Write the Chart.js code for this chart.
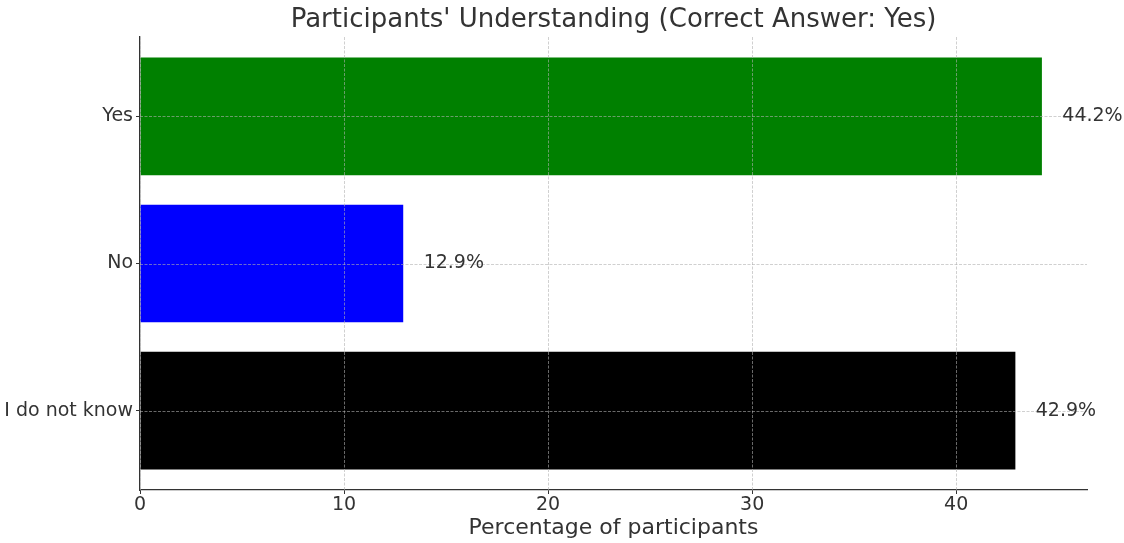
<!DOCTYPE html>
<html>
<head>
<meta charset="utf-8">
<script src="https://cdn.jsdelivr.net/npm/chart.js@4/dist/chart.umd.min.js"></script>
<style>
  body { margin: 0; background: #fff; }
</style>
</head>
<body>
<canvas id="chart" width="1124" height="543"></canvas>
<script>
// data, bottom to top as in the original plot
const categories = ['I do not know', 'No', 'Yes'];
const percentages = [42.9, 12.9, 44.2];
const barColors = ['#000000', '#0000ff', '#008000'];
const xTicks = [0, 10, 20, 30, 40];

const textColor = '#333333';
const fontFamily = "'DejaVu Sans', sans-serif";

// matplotlib-style 5% margins
const xMax = Math.max(...percentages) * 1.05;
const yMin = -0.4 - 0.14;
const yMax = categories.length - 1 + 0.4 + 0.14;

// grid drawn over the bars, plus value labels
const overlayPlugin = {
  id: 'overlay',
  afterDatasetsDraw(chart) {
    const { ctx, chartArea, scales } = chart;
    ctx.save();
    ctx.strokeStyle = 'rgba(176,176,176,0.75)';
    ctx.lineWidth = 0.8;
    ctx.setLineDash([3, 1.5]);
    scales.x.ticks.forEach(t => {
      const px = Math.round(scales.x.getPixelForValue(t.value)) + 0.5;
      ctx.beginPath();
      ctx.moveTo(px, chartArea.top);
      ctx.lineTo(px, chartArea.bottom);
      ctx.stroke();
    });
    scales.y.ticks.forEach(t => {
      const py = Math.round(scales.y.getPixelForValue(t.value)) + 0.5;
      ctx.beginPath();
      ctx.moveTo(chartArea.left, py);
      ctx.lineTo(chartArea.right, py);
      ctx.stroke();
    });
    ctx.setLineDash([]);

    ctx.fillStyle = textColor;
    ctx.font = '19px ' + fontFamily;
    ctx.textAlign = 'left';
    ctx.textBaseline = 'middle';
    percentages.forEach((v, i) => {
      const px = scales.x.getPixelForValue(v + 1);
      const py = scales.y.getPixelForValue(i);
      ctx.fillText(v.toFixed(1) + '%', px, py);
    });
    ctx.restore();
  }
};

new Chart(document.getElementById('chart'), {
  type: 'bar',
  data: {
    datasets: [{
      data: percentages.map((v, i) => ({ x: v, y: i })),
      backgroundColor: barColors,
      borderWidth: 0,
      categoryPercentage: 1.0,
      barPercentage: 0.8
    }]
  },
  options: {
    indexAxis: 'y',
    responsive: false,
    animation: false,
    devicePixelRatio: 1,
    layout: { padding: { left: 0, right: 37, top: 0, bottom: 0 } },
    plugins: {
      legend: { display: false },
      tooltip: { enabled: false },
      title: {
        display: true,
        fullSize: false,
        text: "Participants' Understanding (Correct Answer: Yes)",
        color: textColor,
        font: { family: fontFamily, size: 26, weight: 'normal' },
        padding: { top: 4.4, bottom: 1.4 }
      }
    },
    scales: {
      x: {
        type: 'linear',
        min: 0,
        max: xMax,
        afterBuildTicks: s => { s.ticks = xTicks.map(v => ({ value: v })); },
        afterFit: s => { s.height = 53; },
        ticks: {
          color: textColor,
          font: { family: fontFamily, size: 19 },
          padding: 0,
          maxRotation: 0
        },
        grid: {
          drawOnChartArea: false,
          drawTicks: true,
          tickLength: 4,
          tickColor: '#333',
          color: '#333'
        },
        border: { display: true, color: '#333', width: 1.3 },
        title: {
          display: true,
          text: 'Percentage of participants',
          color: textColor,
          font: { family: fontFamily, size: 22 },
          padding: { top: 0, bottom: 2 }
        }
      },
      y: {
        type: 'linear',
        offset: false,
        min: yMin,
        max: yMax,
        afterBuildTicks: s => { s.ticks = categories.map((c, i) => ({ value: i })); },
        afterFit: s => { s.width = 140; },
        ticks: {
          color: textColor,
          font: { family: fontFamily, size: 19 },
          padding: 3,
          callback: v => categories[v]
        },
        grid: {
          offset: false,
          drawOnChartArea: false,
          drawTicks: true,
          tickLength: 4,
          tickColor: '#333',
          color: '#333'
        },
        border: { display: true, color: '#333', width: 1.3 }
      }
    }
  },
  plugins: [overlayPlugin]
});
</script>
</body>
</html>
